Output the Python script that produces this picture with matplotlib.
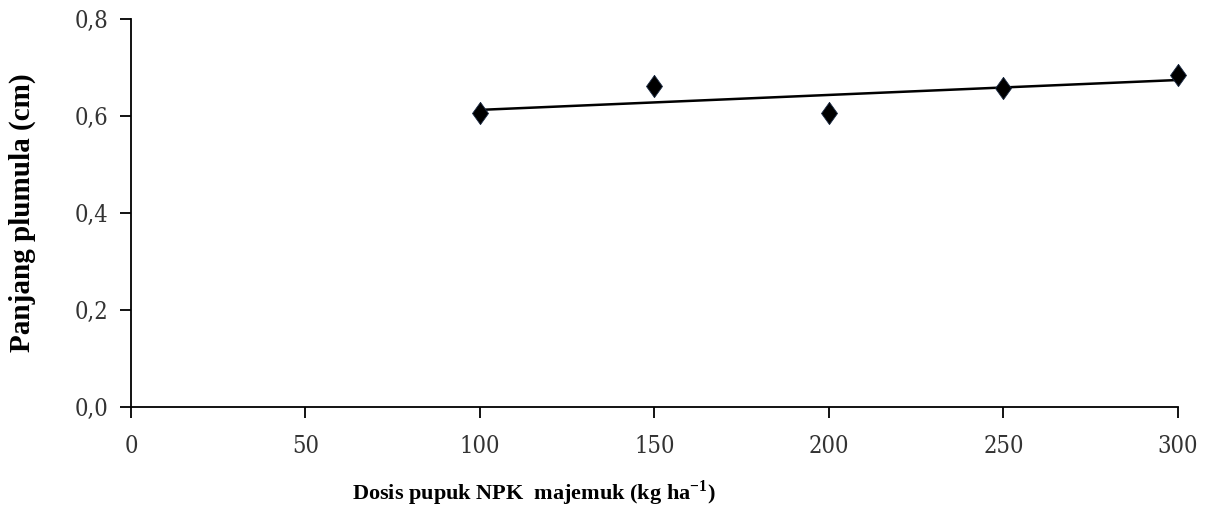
import numpy as np
import matplotlib
matplotlib.use("Agg")
import matplotlib.pyplot as plt

plt.rcParams["mathtext.fontset"] = "custom"
plt.rcParams["mathtext.rm"] = "Liberation Serif"
plt.rcParams["mathtext.bf"] = "Liberation Serif:bold"

dosis = [100, 150, 200, 250, 300]
panjang = [0.606, 0.662, 0.606, 0.658, 0.685]
xticks = [0, 50, 100, 150, 200, 250, 300]
yticks = [0.0, 0.2, 0.4, 0.6, 0.8]
ytick_labels = ["0,0", "0,2", "0,4", "0,6", "0,8"]

fig = plt.figure(figsize=(12.08, 5.13), dpi=100)
ax = fig.add_axes([0.1084, 0.2066, 0.8667, 0.7564])

coef = np.polyfit(dosis, panjang, 1)
xl = np.array([min(dosis), max(dosis)])
ax.plot(xl, np.polyval(coef, xl), color="black", lw=1.8, zorder=2)
diamond = [(0, 1), (0.72, 0), (0, -1), (-0.72, 0), (0, 1)]
ax.plot(dosis, panjang, linestyle="none", marker=diamond, markersize=16,
        markerfacecolor="black", markeredgecolor="#1a2a44", markeredgewidth=0.6,
        zorder=3, clip_on=False)

ax.set_xlim(0, 300)
ax.set_ylim(0, 0.8)
ax.set_xticks(xticks)
ax.set_yticks(yticks)
ax.set_yticklabels(ytick_labels)
for s in ["top", "right"]:
    ax.spines[s].set_visible(False)
for s in ["left", "bottom"]:
    ax.spines[s].set_linewidth(1.3)
ax.tick_params(axis="both", direction="out", length=8, width=1.3, colors="black")
ax.tick_params(axis="x", pad=12)
ax.tick_params(axis="y", pad=8)
for lab in ax.get_xticklabels() + ax.get_yticklabels():
    lab.set_fontfamily("DejaVu Serif")
    lab.set_fontstretch("condensed")
    lab.set_fontsize(17)
    lab.set_color("#333333")

ax.set_xlabel("Dosis pupuk NPK  majemuk (kg ha$^{\\mathbf{-1}}$)", fontfamily="Liberation Serif",
              fontweight="bold", fontsize=16)
ax.xaxis.set_label_coords(0.385, -0.185)
ax.set_ylabel("Panjang plumula (cm)", fontfamily="Liberation Serif",
              fontweight="bold", fontsize=21)
ax.yaxis.set_label_coords(-0.091, 0.5)

fig.savefig("out.png", dpi=100)
